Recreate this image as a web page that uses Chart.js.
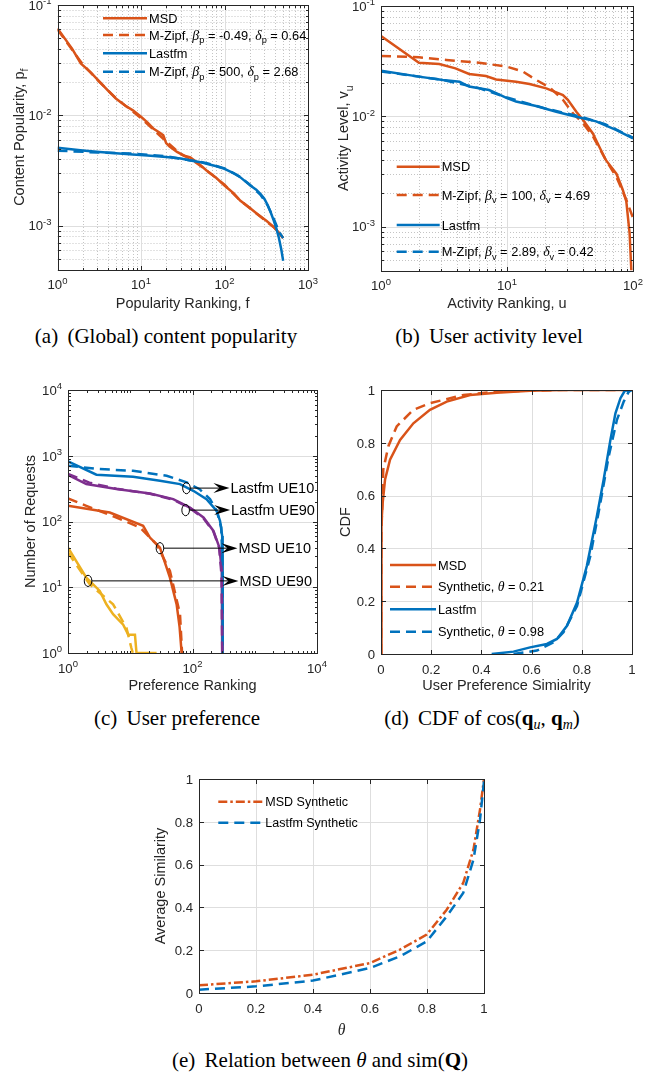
<!DOCTYPE html>
<html>
<head>
<meta charset="utf-8">
<script src="https://cdn.jsdelivr.net/npm/chart.js@4.4.0/dist/chart.umd.min.js"></script>
<style>
  body { margin: 0; background: #fff; width: 667px; height: 1081px; position: relative; overflow: hidden; }
  canvas { position: absolute; left: 0; top: 0; }
  .cap { position: absolute; font-family: "Liberation Serif", "Times New Roman", serif; font-size: 21px; line-height: 21px;
         color: #000; white-space: nowrap; transform: translateX(-50%); }
  .cap .n { margin-right: 4px; }
  .cap sub { font-size: 14px; font-style: italic; vertical-align: -4px; line-height: 0; }
</style>
</head>
<body>

<div class="cap" style="left:166px; top:326px"><span class="n">(a)</span> (Global) content popularity</div>
<div class="cap" style="left:489px; top:326px"><span class="n">(b)</span> User activity level</div>
<div class="cap" style="left:177px; top:708px"><span class="n">(c)</span> User preference</div>
<div class="cap" style="left:482px; top:708px"><span class="n">(d)</span> CDF of cos(<b>q</b><sub>u</sub>, <b>q</b><sub>m</sub>)</div>
<div class="cap" style="left:320px; top:1050px"><span class="n">(e)</span> Relation between <i>θ</i> and sim(<b>Q</b>)</div>

<script>
// colours (matlab defaults)
const BLUE = '#0072BD', ORANGE = '#D95319', YELLOW = '#EDB120', PURPLE = '#7E2F8E';

// ---- (a) content popularity
const popRankMsd = [1, 1.5, 1.9, 2.5, 3.2, 4, 5, 6.5, 8, 10, 12, 14, 17, 18.5, 20, 22, 27, 33, 39, 50, 61, 80, 100, 130, 154, 200, 245, 320, 390, 450, 504];
const popMsd = [0.0614, 0.040, 0.0295, 0.0245, 0.0201, 0.0168, 0.0142, 0.0122, 0.0111, 0.0097, 0.0086, 0.0076, 0.0069, 0.0066, 0.0056, 0.0052, 0.00465, 0.0043, 0.00415, 0.0036, 0.00316, 0.0027, 0.00231, 0.00195, 0.00169, 0.00145, 0.00128, 0.0011, 0.00097, 0.00086, 0.00077];
const popRankMsdFit = [1, 2, 3, 5, 8, 10, 15, 20, 25, 30, 40, 60, 100, 150, 250, 400, 500];
const popMsdFit = [0.060, 0.029, 0.021, 0.0143, 0.0108, 0.0094, 0.0071, 0.0058, 0.0050, 0.00445, 0.0040, 0.0032, 0.00235, 0.00172, 0.00126, 0.00095, 0.00078];
const popRankLfm = [1, 2, 3.2, 5, 8, 12, 20, 30, 39, 50, 61, 80, 100, 130, 154, 204, 240, 269, 300, 324, 360, 389, 420, 447, 480, 504];
const popLfm = [0.00508, 0.0048, 0.00465, 0.00452, 0.00442, 0.00432, 0.00418, 0.00405, 0.0039, 0.00378, 0.00364, 0.00345, 0.00327, 0.00298, 0.00275, 0.00231, 0.00212, 0.00194, 0.00175, 0.00157, 0.0013, 0.00111, 0.00093, 0.00078, 0.0006, 0.00048];
const popRankLfmFit = [1, 3, 8, 20, 40, 60, 100, 150, 200, 270, 330, 390, 450, 504];
const popLfmFit = [0.00478, 0.0046, 0.0045, 0.00425, 0.0039, 0.0037, 0.0033, 0.0028, 0.00236, 0.0019, 0.00152, 0.00115, 0.00088, 0.00077];
const popTicksX = [1, 10, 100, 1000];
const popLabelsX = ['10^{0}', '10^{1}', '10^{2}', '10^{3}'];
const popTicksY = [0.001, 0.01, 0.1];
const popLabelsY = ['10^{-3}', '10^{-2}', '10^{-1}'];

// ---- (b) user activity level
const actRankMsd = [1, 2, 2.9, 3.9, 5, 6.8, 8.2, 11.8, 15.1, 20.5, 27.8, 30.4, 35.5, 40, 48, 54, 61, 74, 83, 88.5, 94, 97];
const actMsd = [0.0535, 0.0306, 0.0298, 0.0272, 0.0242, 0.0232, 0.0216, 0.0206, 0.0196, 0.0179, 0.0156, 0.0141, 0.011, 0.0093, 0.007, 0.0053, 0.004, 0.003, 0.00215, 0.00169, 0.00087, 0.0004];
const actRankMsdFit = [1, 2, 3.3, 6, 10, 13.4, 17.1, 21.8, 27.8, 33.4, 40, 48, 61, 74, 88.5, 100];
const actMsdFit = [0.0352, 0.0343, 0.0324, 0.0306, 0.0282, 0.0254, 0.0213, 0.0183, 0.0141, 0.0106, 0.0087, 0.0066, 0.004, 0.0028, 0.00175, 0.0012];
const actRankLfm = [1, 2, 3.1, 4.2, 5, 7.2, 8.2, 10, 11.8, 17, 24.6, 35.5, 51, 74, 100];
const actLfm = [0.0259, 0.0229, 0.0213, 0.0206, 0.0186, 0.0173, 0.0162, 0.0146, 0.0136, 0.0124, 0.011, 0.0099, 0.009, 0.0075, 0.0063];
const actRankLfmFit = [1, 3, 6, 10, 20, 40, 60, 100];
const actLfmFit = [0.0255, 0.0215, 0.018, 0.0148, 0.0118, 0.0098, 0.0085, 0.0064];
const actTicksX = [1, 10, 100];
const actLabelsX = ['10^{0}', '10^{1}', '10^{2}'];
const actTicksY = [0.001, 0.01, 0.1];
const actLabelsY = ['10^{-3}', '10^{-2}', '10^{-1}'];

// ---- (c) user preference
const prefRankL10 = [1, 2.86, 11.1, 30, 63, 103, 168, 245, 277, 300, 304, 306];
const prefL10 = [820, 514, 479, 416, 370, 293, 219, 145, 102, 60, 20, 1];
const prefRankL10Fit = [1, 3.24, 11.1, 38.4, 80.5, 130, 191, 245, 290, 304, 306];
const prefL10Fit = [705, 627, 591, 496, 393, 310, 219, 145, 81, 20, 1];
const prefRankL90 = [1, 1.97, 6, 20.7, 49, 91, 150, 217, 271, 295, 300];
const prefL90 = [514, 371, 311, 267, 219, 163, 115, 72, 40, 17.7, 1];
const prefRankL90Fit = [1, 2.2, 6, 20.7, 49, 91, 150, 217, 268, 293, 300];
const prefL90Fit = [530, 390, 315, 265, 215, 160, 112, 70, 40, 15, 1];
const prefRankM10 = [1, 4.69, 16.1, 20.7, 30, 43.4, 55.6, 62, 66.9];
const prefM10 = [173, 137, 86, 57, 40, 14, 5.5, 2.5, 1];
const prefRankM10Fit = [1, 1.97, 6, 14.3, 26.5, 43.4, 63, 68];
const prefM10Fit = [224, 173, 115, 81, 45, 17.7, 3.9, 1];
const prefRankM90 = [1, 1.97, 3.24, 4.14, 5.3, 7.7, 9.3, 11.9, 12.6, 26.5];
const prefM90 = [40, 14, 8.8, 5.5, 3.9, 2.7, 1.9, 1.9, 1, 1];
const prefRankM90Fit = [1, 2.23, 5.3, 8.7, 10.4, 11];
const prefM90Fit = [33.7, 11.1, 5.5, 2.4, 1.2, 1];
const prefTicksX = [1, 100, 10000];
const prefLabelsX = ['10^{0}', '10^{2}', '10^{4}'];
const prefTicksY = [1, 10, 100, 1000, 10000];
const prefLabelsY = ['10^{0}', '10^{1}', '10^{2}', '10^{3}', '10^{4}'];
const prefNoteText = ['Lastfm UE10', 'Lastfm UE90', 'MSD UE10', 'MSD UE90'];
const prefNoteX = [80, 77.6, 30, 2.1];
const prefNoteY = [322, 149, 39.3, 12.5];
const prefNoteTipX = [392, 402, 527, 547];

// ---- (d) CDF of similarity
const simMsdX = [0, 0.001, 0.003, 0.0066, 0.016, 0.036, 0.076, 0.129, 0.195, 0.262, 0.355, 0.461, 0.594, 0.727, 0.98];
const simMsdY = [0, 0.45, 0.5, 0.572, 0.66, 0.736, 0.811, 0.874, 0.925, 0.956, 0.981, 0.99, 0.997, 1, 1];
const simMsdFitX = [0, 0.001, 0.003, 0.009, 0.029, 0.0625, 0.129, 0.195, 0.328, 0.461, 0.7, 0.995];
const simMsdFitY = [0, 0.45, 0.5, 0.698, 0.786, 0.862, 0.925, 0.95, 0.981, 0.994, 1, 1];
const simLfmX = [0.441, 0.528, 0.594, 0.661, 0.701, 0.741, 0.781, 0.82, 0.86, 0.887, 0.914, 0.934, 0.954, 0.973, 0.993];
const simLfmY = [0, 0.009, 0.025, 0.038, 0.057, 0.107, 0.195, 0.333, 0.522, 0.66, 0.811, 0.912, 0.969, 1, 0.994];
const simLfmFitX = [0.528, 0.621, 0.6875, 0.727, 0.781, 0.834, 0.874, 0.907, 0.94, 0.967, 0.987, 1];
const simLfmFitY = [0, 0.013, 0.044, 0.082, 0.182, 0.371, 0.572, 0.748, 0.887, 0.956, 0.994, 1];
const simTicks = [0, 0.2, 0.4, 0.6, 0.8, 1];
const simLabels = ['0', '0.2', '0.4', '0.6', '0.8', '1'];

// ---- (e) theta vs average similarity
const thetaMsd = [0, 0.2, 0.4, 0.6, 0.705, 0.799, 0.869, 0.927, 0.963, 0.986, 1];
const avgSimMsd = [0.036, 0.0545, 0.0857, 0.14, 0.2025, 0.273, 0.389, 0.514, 0.67, 0.857, 1];
const thetaLfm = [0, 0.2, 0.4, 0.6, 0.705, 0.799, 0.869, 0.927, 0.963, 0.986, 1];
const avgSimLfm = [0.0156, 0.031, 0.058, 0.117, 0.171, 0.241, 0.358, 0.467, 0.623, 0.81, 0.99];

const SANS = '"Liberation Sans", Arial, Helvetica, sans-serif';
const AXC = '#262626';

// tiny tex-ish text: _x / _{..} subscript, ^x / ^{..} superscript, greek in italic serif
function textRuns(str, size) {
  const parts = [];
  let i = 0;
  while (i < str.length) {
    const c = str[i];
    if (c === '_' || c === '^') {
      const mode = c === '_' ? 'sub' : 'sup';
      i++;
      let t;
      if (str[i] === '{') { const j = str.indexOf('}', i); t = str.slice(i + 1, j); i = j + 1; }
      else { t = str[i]; i++; }
      parts.push({ t, mode });
    } else {
      if (parts.length && parts[parts.length - 1].mode === 'n') parts[parts.length - 1].t += c;
      else parts.push({ t: c, mode: 'n' });
      i++;
    }
  }
  const runs = [];
  parts.forEach(p => {
    const s = p.mode === 'n' ? size : size * 0.72;
    const dy = p.mode === 'sub' ? size * 0.3 : p.mode === 'sup' ? -size * 0.42 : 0;
    let cur = '', curG = null;
    const push = () => runs.push({ t: cur, dy, font: curG ? `italic ${s * 1.08}px "Liberation Serif", serif` : `${s}px ${SANS}` });
    for (const ch of p.t) {
      const g = /[\u0370-\u03ff]/.test(ch);
      if (curG !== null && g !== curG) { push(); cur = ''; }
      cur += ch; curG = g;
    }
    if (cur) push();
  });
  return runs;
}

function drawRich(ctx, str, x, y, size, align, rot, color) {
  const runs = textRuns(str, size);
  let w = 0;
  runs.forEach(r => { ctx.font = r.font; r.w = ctx.measureText(r.t).width; w += r.w; });
  ctx.save();
  ctx.translate(x, y);
  if (rot) ctx.rotate(rot);
  ctx.fillStyle = color || AXC;
  ctx.textAlign = 'left';
  ctx.textBaseline = 'alphabetic';
  let cx = align === 'center' ? -w / 2 : align === 'right' ? -w : 0;
  runs.forEach(r => { ctx.font = r.font; ctx.fillText(r.t, cx, r.dy + size * 0.36); cx += r.w; });
  ctx.restore();
  return w;
}

function logMinor(min, max) {
  const out = [];
  for (let e = Math.floor(Math.log10(min)); e <= Math.ceil(Math.log10(max)); e++) {
    for (let m = 1; m <= 9; m++) {
      const v = m * Math.pow(10, e);
      if (v >= min * 0.999 && v <= max * 1.001) out.push(v);
    }
  }
  return out;
}

const px = v => Math.round(v) + 0.5;

const matlabAxes = {
  id: 'matlab',
  beforeDatasetsDraw(chart, args, o) {
    const { ctx, chartArea: a } = chart;
    const sx = chart.scales.x, sy = chart.scales.y;
    ctx.save();
    ctx.lineWidth = 1;
    if (o.minorGrid) {
      ctx.strokeStyle = '#c4c4c4';
      ctx.setLineDash([1, 2]);
      logMinor(sx.min, sx.max).forEach(v => { const p = px(sx.getPixelForValue(v)); ctx.beginPath(); ctx.moveTo(p, a.top); ctx.lineTo(p, a.bottom); ctx.stroke(); });
      logMinor(sy.min, sy.max).forEach(v => { const p = px(sy.getPixelForValue(v)); ctx.beginPath(); ctx.moveTo(a.left, p); ctx.lineTo(a.right, p); ctx.stroke(); });
    }
    ctx.setLineDash([]);
    ctx.strokeStyle = '#dedede';
    o.xTicks.forEach(v => { const p = px(sx.getPixelForValue(v)); ctx.beginPath(); ctx.moveTo(p, a.top); ctx.lineTo(p, a.bottom); ctx.stroke(); });
    o.yTicks.forEach(v => { const p = px(sy.getPixelForValue(v)); ctx.beginPath(); ctx.moveTo(a.left, p); ctx.lineTo(a.right, p); ctx.stroke(); });
    ctx.restore();
  },
  afterDatasetsDraw(chart, args, o) {
    const { ctx, chartArea: a } = chart;
    const sx = chart.scales.x, sy = chart.scales.y;
    const L = px(a.left), R = px(a.right), T = px(a.top), B = px(a.bottom);
    ctx.save();
    ctx.lineWidth = 1;
    ctx.strokeStyle = AXC;
    ctx.setLineDash([]);
    ctx.strokeRect(L, T, R - L, B - T);
    const tick = (vals, len, isX, s) => vals.forEach(v => {
      const p = px(s.getPixelForValue(v));
      ctx.beginPath();
      if (isX) { ctx.moveTo(p, B); ctx.lineTo(p, B - len); ctx.moveTo(p, T); ctx.lineTo(p, T + len); }
      else { ctx.moveTo(L, p); ctx.lineTo(L + len, p); ctx.moveTo(R, p); ctx.lineTo(R - len, p); }
      ctx.stroke();
    });
    if (o.xLog) tick(logMinor(sx.min, sx.max), 2.5, true, sx);
    if (o.yLog) tick(logMinor(sy.min, sy.max), 2.5, false, sy);
    tick(o.xTicks, 4.5, true, sx);
    tick(o.yTicks, 4.5, false, sy);

    o.xTicks.forEach((v, i) => drawRich(ctx, o.xLabels[i], sx.getPixelForValue(v), a.bottom + 15, o.tickSize, 'center'));
    o.yTicks.forEach((v, i) => drawRich(ctx, o.yLabels[i], a.left - 6, sy.getPixelForValue(v), o.tickSize, 'right'));

    drawRich(ctx, o.xTitle, (a.left + a.right) / 2, a.bottom + o.xTitleOff, o.titleSize, 'center');
    drawRich(ctx, o.yTitle, a.left - o.yTitleOff, (a.top + a.bottom) / 2, o.titleSize, 'center', -Math.PI / 2);

    if (o.legend) {
      const lg = o.legend;
      chart.data.datasets.forEach((ds, i) => {
        const y = a.top + lg.rows[i];
        const x0 = a.left + lg.x;
        ctx.strokeStyle = ds.borderColor;
        ctx.lineWidth = ds.borderWidth;
        ctx.setLineDash(ds.borderDash || []);
        ctx.beginPath(); ctx.moveTo(x0, y); ctx.lineTo(x0 + lg.len, y); ctx.stroke();
        drawRich(ctx, ds.label, x0 + lg.len + 2, y, lg.size, 'left', 0, '#000');
      });
    }

    if (o.notes) {
      const n = o.notes;
      ctx.setLineDash([]);
      n.text.forEach((t, i) => {
        const cx = sx.getPixelForValue(n.x[i]), cy = sy.getPixelForValue(n.y[i]);
        const tip = sx.getPixelForValue(n.tip[i]);
        ctx.strokeStyle = '#000'; ctx.fillStyle = '#000'; ctx.lineWidth = 1;
        ctx.beginPath(); ctx.ellipse(cx, cy, 3.8, 5.6, 0, 0, Math.PI * 2); ctx.stroke();
        ctx.beginPath(); ctx.moveTo(cx + 3.8, cy); ctx.lineTo(tip - 8, cy); ctx.stroke();
        ctx.beginPath();
        ctx.moveTo(tip, cy); ctx.lineTo(tip - 16, cy - 5); ctx.lineTo(tip - 10, cy); ctx.lineTo(tip - 16, cy + 5);
        ctx.closePath(); ctx.fill();
        drawRich(ctx, t, tip + 1, cy, 14.5, 'left', 0, '#000');
      });
    }
    ctx.restore();
  }
};

function series(xs, ys, color, dash, label) {
  return {
    label: label,
    data: xs.map((x, i) => ({ x: x, y: ys[i] })),
    showLine: true,
    borderColor: color,
    backgroundColor: color,
    borderWidth: 2.5,
    borderDash: dash || [],
    pointRadius: 0,
    tension: 0
  };
}

function panel(rect, xScale, yScale, datasets, deco) {
  const cv = document.createElement('canvas');
  cv.width = 667;
  cv.height = 1081;
  document.body.appendChild(cv);
  datasets.forEach((d, i) => { d.order = -i; });
  return new Chart(cv, {
    type: 'scatter',
    data: { datasets: datasets },
    options: {
      responsive: false,
      animation: false,
      events: [],
      layout: { padding: { left: rect[0], top: rect[1], right: 667 - rect[2], bottom: 1081 - rect[3] } },
      scales: {
        x: Object.assign({ display: false }, xScale),
        y: Object.assign({ display: false }, yScale)
      },
      plugins: { legend: { display: false }, tooltip: { enabled: false }, matlab: deco }
    },
    plugins: [matlabAxes]
  });
}

const DASH = [10, 6];
const TICK = 13.2, TITLE = 14.5;

// (a)
panel([57.5, 5, 308, 269.5],
  { type: 'logarithmic', min: 1, max: 1000 },
  { type: 'logarithmic', min: 4e-4, max: 0.1 },
  [
    series(popRankMsd, popMsd, ORANGE, null, 'MSD'),
    series(popRankMsdFit, popMsdFit, ORANGE, DASH, 'M-Zipf, β_p = -0.49, δ_p = 0.64'),
    series(popRankLfm, popLfm, BLUE, null, 'Lastfm'),
    series(popRankLfmFit, popLfmFit, BLUE, DASH, 'M-Zipf, β_p = 500, δ_p = 2.68')
  ],
  { xLog: true, yLog: true, minorGrid: true, xTicks: popTicksX, xLabels: popLabelsX, yTicks: popTicksY, yLabels: popLabelsY,
    tickSize: TICK, titleSize: TITLE, xTitle: 'Popularity Ranking, f', yTitle: 'Content Popularity, p_f', xTitleOff: 33, yTitleOff: 39,
    legend: { x: 45.5, len: 44, size: 12.8, rows: [13.3, 30, 48.3, 66.7] } });

// (b)
panel([381, 6, 633, 270.5],
  { type: 'logarithmic', min: 1, max: 100 },
  { type: 'logarithmic', min: 4e-4, max: 0.1 },
  [
    series(actRankMsd, actMsd, ORANGE, null, 'MSD'),
    series(actRankMsdFit, actMsdFit, ORANGE, DASH, 'M-Zipf, β_v = 100, δ_v = 4.69'),
    series(actRankLfm, actLfm, BLUE, null, 'Lastfm'),
    series(actRankLfmFit, actLfmFit, BLUE, DASH, 'M-Zipf, β_v = 2.89, δ_v = 0.42')
  ],
  { xLog: true, yLog: true, minorGrid: true, xTicks: actTicksX, xLabels: actLabelsX, yTicks: actTicksY, yLabels: actLabelsY,
    tickSize: TICK, titleSize: TITLE, xTitle: 'Activity Ranking, u', yTitle: 'Activity Level, v_u', xTitleOff: 32, yTitleOff: 38,
    legend: { x: 15.7, len: 43, size: 12.8, rows: [160.7, 189, 219, 245.7] } });

// (c)
panel([68, 390, 317, 653],
  { type: 'logarithmic', min: 1, max: 10000 },
  { type: 'logarithmic', min: 1, max: 10000 },
  [
    series(prefRankL10, prefL10, BLUE, null, 'Lastfm UE10'),
    series(prefRankL90, prefL90, PURPLE, null, 'Lastfm UE90'),
    series(prefRankL10Fit, prefL10Fit, BLUE, DASH, 'Lastfm UE10 fit'),
    series(prefRankL90Fit, prefL90Fit, PURPLE, DASH, 'Lastfm UE90 fit'),
    series(prefRankM10, prefM10, ORANGE, null, 'MSD UE10'),
    series(prefRankM10Fit, prefM10Fit, ORANGE, DASH, 'MSD UE10 fit'),
    series(prefRankM90, prefM90, YELLOW, null, 'MSD UE90'),
    series(prefRankM90Fit, prefM90Fit, YELLOW, DASH, 'MSD UE90 fit')
  ],
  { xLog: true, yLog: true, minorGrid: false, xTicks: prefTicksX, xLabels: prefLabelsX, yTicks: prefTicksY, yLabels: prefLabelsY,
    tickSize: TICK, titleSize: TITLE, xTitle: 'Preference Ranking', yTitle: 'Number of Requests', xTitleOff: 32, yTitleOff: 38,
    notes: { text: prefNoteText, x: prefNoteX, y: prefNoteY, tip: prefNoteTipX } });

// (d)
panel([381, 390, 632, 654],
  { type: 'linear', min: 0, max: 1 },
  { type: 'linear', min: 0, max: 1 },
  [
    series(simMsdX, simMsdY, ORANGE, null, 'MSD'),
    series(simMsdFitX, simMsdFitY, ORANGE, DASH, 'Synthetic, θ = 0.21'),
    series(simLfmX, simLfmY, BLUE, null, 'Lastfm'),
    series(simLfmFitX, simLfmFitY, BLUE, DASH, 'Synthetic, θ = 0.98')
  ],
  { xLog: false, yLog: false, minorGrid: false, xTicks: simTicks, xLabels: simLabels, yTicks: simTicks, yLabels: simLabels,
    tickSize: TICK, titleSize: TITLE, xTitle: 'User Preference Simialrity', yTitle: 'CDF', xTitleOff: 31, yTitleOff: 36,
    legend: { x: 9, len: 46, size: 12.8, rows: [175, 196.7, 219.3, 241.7] } });

// (e)
panel([199, 779, 484, 993],
  { type: 'linear', min: 0, max: 1 },
  { type: 'linear', min: 0, max: 1 },
  [
    series(thetaMsd, avgSimMsd, ORANGE, [9, 3, 2.5, 3], 'MSD Synthetic'),
    series(thetaLfm, avgSimLfm, BLUE, DASH, 'Lastfm Synthetic')
  ],
  { xLog: false, yLog: false, minorGrid: false, xTicks: simTicks, xLabels: simLabels, yTicks: simTicks, yLabels: simLabels,
    tickSize: TICK, titleSize: TITLE, xTitle: 'θ', yTitle: 'Average Similarity', xTitleOff: 37, yTitleOff: 39,
    legend: { x: 19.3, len: 45, size: 12.5, rows: [22.7, 43.7] } });
</script>
</body>
</html>
